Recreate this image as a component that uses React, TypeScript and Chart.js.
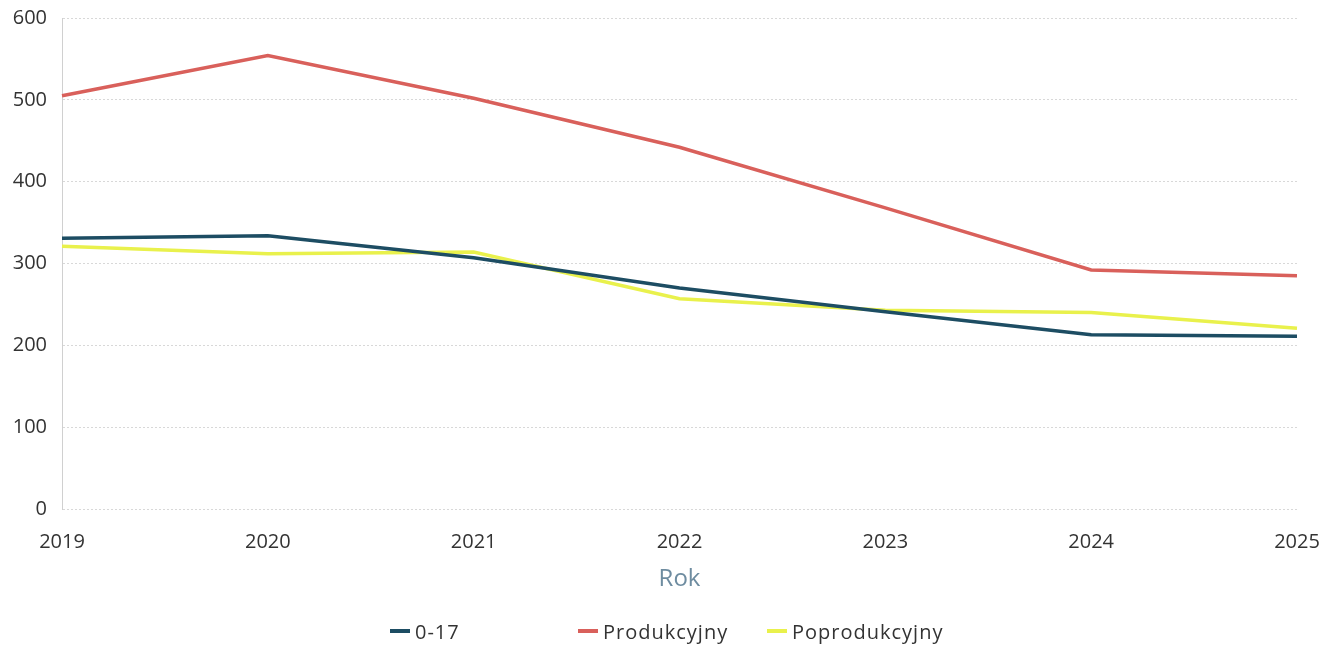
import React, { useEffect, useRef } from "react";
import { Chart, registerables } from "chart.js";

Chart.register(...registerables);

const years = ["2019", "2020", "2021", "2022", "2023", "2024", "2025"];
const ageYoung = [331, 334, 307, 270, 241, 213, 211];
const ageWorking = [505, 554, 502, 442, 368, 292, 285];
const ageRetired = [321, 312, 314, 257, 243, 240, 221];

const seriesNames = ["0-17", "Produkcyjny", "Poprodukcyjny"];
const seriesColors = ["#1d4d63", "#d9605b", "#e9f14c"];

const FONT = "'Open Sans', 'Noto Sans', sans-serif";

export default function App() {
  const ref = useRef<HTMLCanvasElement | null>(null);

  useEffect(() => {
    if (!ref.current) return;
    const chart = new Chart(ref.current, {
      type: "line",
      data: {
        labels: years,
        datasets: [ageYoung, ageWorking, ageRetired].map((d, i) => ({
          label: seriesNames[i],
          data: d,
          borderColor: seriesColors[i],
          backgroundColor: seriesColors[i],
          borderWidth: 3.5,
          pointRadius: 0,
          tension: 0,
          fill: false,
        })),
      },
      options: {
        animation: false,
        responsive: false,
        maintainAspectRatio: false,
        layout: { padding: { top: 18, left: 12, right: 22, bottom: 50 } },
        plugins: { legend: { display: false }, tooltip: { enabled: false } },
        scales: {
          x: {
            offset: false,
            afterFit: (s: any) => {
              s.height = 86;
              s.paddingLeft = 0;
              s.paddingRight = 0;
            },
            grid: { display: false, drawTicks: false },
            border: { display: false },
            ticks: {
              color: "#333333",
              font: { family: FONT, size: 20 },
              padding: 21,
              maxRotation: 0,
            },
            title: {
              display: true,
              text: "Rok",
              color: "#6e8ca0",
              font: { family: FONT, size: 24 },
              padding: { top: 8, bottom: 1 },
            },
          },
          y: {
            min: 0,
            max: 600,
            afterFit: (s: any) => {
              s.width = 50;
              s.paddingTop = 0;
              s.paddingBottom = 0;
            },
            ticks: {
              stepSize: 100,
              color: "#333333",
              font: { family: FONT, size: 20 },
              padding: 15,
            },
            grid: {
              color: "#d8d8d8",
              drawTicks: false,
              lineWidth: 1,
            },
            border: { display: true, color: "#d0d0d0", dash: [2, 2] },
          },
        },
      },
    });
    (chart.options.scales as any).y.grid.borderDash = [2, 2];
    chart.update();
    return () => chart.destroy();
  }, []);

  const legendX = [390, 578, 767];

  return (
    <div style={{ position: "fixed", left: 0, top: 0, width: 1319, height: 645, background: "#fff" }}>
      <canvas ref={ref} width={1319} height={645} style={{ display: "block" }} />
      {seriesNames.map((n, i) => (
        <div
          key={n}
          style={{
            position: "absolute",
            left: legendX[i],
            top: 618,
            height: 26,
            display: "flex",
            alignItems: "center",
            fontFamily: FONT,
            fontSize: 20,
            letterSpacing: 1,
            color: "#333333",
            whiteSpace: "nowrap",
          }}
        >
          <span
            style={{
              display: "inline-block",
              width: 20,
              height: 4,
              background: seriesColors[i],
              marginRight: 5,
            }}
          />
          {n}
        </div>
      ))}
    </div>
  );
}
